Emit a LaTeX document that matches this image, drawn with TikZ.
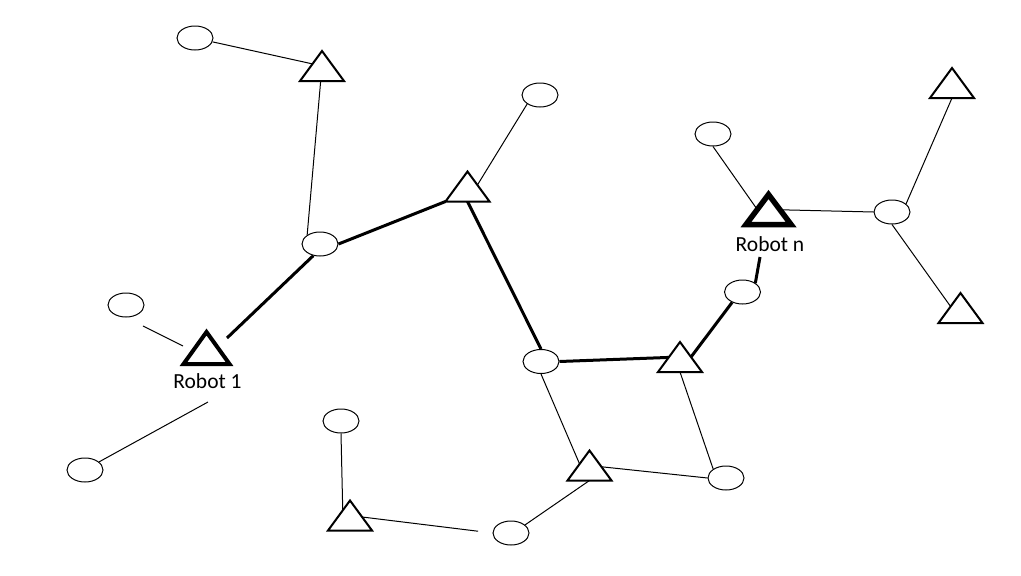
\documentclass[tikz,border=0pt]{standalone}
\usepackage{fontspec}
\setmainfont{Carlito}
\usetikzlibrary{calc,shapes.geometric}
\pgfdeclarelayer{bg}
\pgfsetlayers{bg,main}
\begin{document}
\begin{tikzpicture}[x=1pt,y=-1pt,
  ell/.style={draw, ellipse, line width=1pt, fill=white, minimum width=36pt, minimum height=24pt, inner sep=0pt},
  thinline/.style={line width=1pt},
  thickline/.style={line width=3pt},
  lbl/.style={font=\fontsize{21.5}{24}\selectfont, anchor=base, inner sep=0pt},
  pics/tri/.style n args={3}{code={
    \coordinate (-c) at (0,0);
    \coordinate (-a) at (0,-#2);
    \coordinate (-l) at (-#1,#2);
    \coordinate (-r) at (#1,#2);
    \coordinate (-b) at (0,#2);
    \draw[fill=white, line width=#3] (0,-#2) -- (#1,#2) -- (-#1,#2) -- cycle;
  }}
]
\useasboundingbox (0,0) rectangle (1021,576);

% ellipses
\node[ell] (e1) at (195,38) {};
\node[ell] (e2) at (540,95) {};
\node[ell] (e3) at (713,134) {};
\node[ell] (e4) at (320,244) {};
\node[ell] (e5) at (892,212) {};
\node[ell] (e6) at (126,305) {};
\node[ell] (e7) at (742.5,292) {};
\node[ell] (e8) at (541,361.5) {};
\node[ell] (e9) at (341,421) {};
\node[ell] (e10) at (85,470) {};
\node[ell] (e11) at (726,478) {};
\node[ell] (e12) at (511,533) {};

% triangles
\pic (t1) at (322,66) {tri={22}{15}{2pt}};
\pic (t2) at (467.5,186.5) {tri={22}{15}{2pt}};
\pic (t4) at (952,83) {tri={22}{15}{2pt}};
\pic (t6) at (680,357) {tri={22}{15}{2pt}};
\pic (t7) at (960.5,308) {tri={22}{15}{2pt}};
\pic (t8) at (589.5,465.5) {tri={22}{15}{2pt}};
\pic (t9) at (350,515.5) {tri={22}{15}{2pt}};
\pic (t5) at (206.5,348) {tri={23}{16}{4pt}};
\pic (t3) at (768.5,209.5) {tri={22.5}{15}{5.5pt}};

% labels
\node[lbl] (l1) at (207.5,388) {Robot 1};
\node[lbl] (ln) at (770,251.5) {Robot n};

% free ends
\coordinate (r1-end) at (227,338);
\coordinate (r1-w) at (183,346);
\coordinate (r1-s) at (208,402);
\coordinate (rn-s) at (760,257);

\begin{pgfonlayer}{bg}
\fill[white] (0,0) rectangle (1021,576);
\draw[thinline] (e1) -- (t1-c);
\draw[thinline] (t1-c) -- (e4.145);
\draw[thickline] (e4.east) -- (t2-l);
\draw[thinline] ($(t2-a)!0.45!(t2-r)$) -- (e2.215);
\draw[thickline] (t2-b) -- (e8.north);
\draw[thickline] (e8.east) -- (t6-c);
\draw[thickline] ($(t6-a)!0.5!(t6-r)$) -- (e7.225);
\draw[thickline] (rn-s) -- (e7.35);
\draw[thinline] (e3.south) -- ($(t3-a)!0.5!(t3-l)$);
\draw[thinline] (t3-c) -- (e5.west);
\draw[thinline] (e5.30) -- (t4-b);
\draw[thinline] (e5.south) -- ($(t7-a)!0.45!(t7-l)$);
\draw[thickline] (e4.240) -- (r1-end);
\draw[thinline, shorten <=19pt] (e6.south) -- (r1-w);
\draw[thinline] (r1-s) -- (e10.30);
\draw[thinline] (e8.south) -- ($(t8-a)!0.45!(t8-l)$);
\draw[thinline] (t6-b) -- (e11.145);
\draw[thinline] (t8-c) -- (e11.west);
\draw[thinline] (t8-b) -- (e12.30);
\draw[thinline, shorten >=14.5pt] (t9-c) -- (e12.west);
\draw[thinline] (e9.south) -- ($(t9-a)!0.33!(t9-l)$);
\end{pgfonlayer}
\end{tikzpicture}
\end{document}
